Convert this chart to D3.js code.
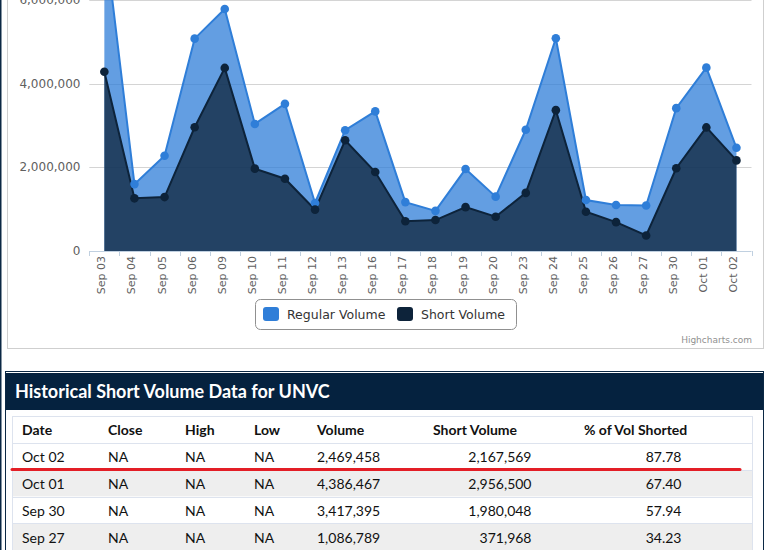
<!DOCTYPE html>
<html>
<head>
<meta charset="utf-8">
<script src="https://cdn.jsdelivr.net/npm/d3@7/dist/d3.min.js"></script>
<style>
body { margin: 0; background: #fff; }
svg { display: block; }
</style>
</head>
<body>
<div id="chart-area"></div>
<script>
var width = 774;
var height = 550;

// chart data
var dates = ["Sep 03","Sep 04","Sep 05","Sep 06","Sep 09","Sep 10","Sep 11","Sep 12","Sep 13","Sep 16","Sep 17",
	"Sep 18","Sep 19","Sep 20","Sep 23","Sep 24","Sep 25","Sep 26","Sep 27","Sep 30","Oct 01","Oct 02"];
var regularVolume = [7600000,1600000,2280000,5080000,5790000,3040000,3520000,1150000,2890000,3340000,1170000,
	960000,1960000,1300000,2900000,5090000,1220000,1100000,1086789,3417395,4386467,2469458];
var shortVolume = [4290000,1260000,1290000,2960000,4380000,1970000,1730000,990000,2650000,1890000,710000,
	740000,1050000,820000,1390000,3370000,940000,690000,371968,1980048,2956500,2167569];
var yTicks = [0, 2000000, 4000000, 6000000];

// table data
var tableHeaders = ["Date","Close","High","Low","Volume","Short Volume","% of Vol Shorted"];
var tableDates = ["Oct 02","Oct 01","Sep 30","Sep 27"];
var tableClose = ["NA","NA","NA","NA"];
var tableHigh = ["NA","NA","NA","NA"];
var tableLow = ["NA","NA","NA","NA"];
var tableVolume = ["2,469,458","4,386,467","3,417,395","1,086,789"];
var tableShort = ["2,167,569","2,956,500","1,980,048","371,968"];
var tablePct = ["87.78","67.40","57.94","34.23"];

var chartFont = "'DejaVu Sans', Verdana, sans-serif";
var tableFont = "Lato, 'Open Sans', sans-serif";

var svg = d3.select("#chart-area").append("svg")
	.attr("width", width)
	.attr("height", height);

// page edge line
svg.append("rect").attr("x", 0).attr("y", 0).attr("width", 1.5).attr("height", height).attr("fill", "#0b2844");

// chart box
svg.append("rect")
	.attr("x", 7.5).attr("y", -20).attr("width", 756).attr("height", 368.5)
	.attr("fill", "#fff").attr("stroke", "#cfcfcf");

var x = d3.scaleBand()
	.domain(dates)
	.range([89.3, 751.5]);

var y = d3.scaleLinear()
	.domain([0, 8000000])
	.range([251, 251 - 4 * 83.6]);

var cx = (d) => x(d) + x.bandwidth() / 2;

var g = svg.append("g");

// grid lines
g.selectAll(".grid")
	.data(yTicks.slice(1))
	.enter()
	.append("line")
		.attr("x1", 89.3).attr("x2", 751.5)
		.attr("y1", (d) => Math.round(y(d)) + 0.5)
		.attr("y2", (d) => Math.round(y(d)) + 0.5)
		.attr("stroke", "#d4d4d4");

// y labels
g.selectAll(".ylabel")
	.data(yTicks)
	.enter()
	.append("text")
		.attr("x", 80.5)
		.attr("y", (d) => y(d) + 4)
		.attr("text-anchor", "end")
		.attr("font-family", chartFont)
		.attr("font-size", "12px")
		.attr("fill", "#606060")
		.text((d) => d3.format(",")(d));

var regArea = d3.area()
	.x((d, i) => cx(dates[i]))
	.y0(y(0))
	.y1((d) => y(d));
var line = d3.line()
	.x((d, i) => cx(dates[i]))
	.y((d) => y(d));

var series = [
	{values: regularVolume, color: "#2f7ed8"},
	{values: shortVolume, color: "#0d233a"}
];

series.forEach((s) => {
	g.append("path")
		.attr("d", regArea(s.values))
		.attr("fill", s.color)
		.attr("fill-opacity", 0.75);
	g.append("path")
		.attr("d", line(s.values))
		.attr("fill", "none")
		.attr("stroke", s.color)
		.attr("stroke-width", 2);
});
series.forEach((s) => {
	g.selectAll(null)
		.data(s.values)
		.enter()
		.append("circle")
			.attr("cx", (d, i) => cx(dates[i]))
			.attr("cy", (d) => y(d))
			.attr("r", 4.3)
			.attr("fill", s.color);
});

// x axis
g.append("line")
	.attr("x1", 89.3).attr("x2", 751.5)
	.attr("y1", 251.5).attr("y2", 251.5)
	.attr("stroke", "#c0d0e0");
var tickPos = dates.map((d) => x(d)).concat([751.5]);
g.selectAll(".xtick")
	.data(tickPos)
	.enter()
	.append("line")
		.attr("x1", (d) => Math.round(d) + 0.5).attr("x2", (d) => Math.round(d) + 0.5)
		.attr("y1", 251).attr("y2", 256)
		.attr("stroke", "#c0d0e0");
g.selectAll(".xlabel")
	.data(dates)
	.enter()
	.append("text")
		.attr("text-anchor", "end")
		.attr("font-family", chartFont)
		.attr("font-size", "11px")
		.attr("fill", "#606060")
		.attr("transform", (d) => "translate(" + (cx(d) + 1) + ",256) rotate(-90)")
		.text((d) => d);

// legend
var legend = svg.append("g");
legend.append("rect")
	.attr("x", 255.5).attr("y", 299.5).attr("width", 261).attr("height", 30)
	.attr("rx", 5)
	.attr("fill", "#fff").attr("stroke", "#909090");
var legendItems = [
	{name: "Regular Volume", color: "#2f7ed8", x: 263},
	{name: "Short Volume", color: "#0d233a", x: 397}
];
legendItems.forEach((it) => {
	legend.append("rect")
		.attr("x", it.x).attr("y", 307).attr("width", 16).attr("height", 14)
		.attr("rx", 3)
		.attr("fill", it.color);
	legend.append("text")
		.attr("x", it.x + 24).attr("y", 319)
		.attr("font-family", chartFont)
		.attr("font-size", "12.5px")
		.attr("fill", "#333")
		.text(it.name);
});

svg.append("text")
	.attr("x", 752).attr("y", 343)
	.attr("text-anchor", "end")
	.attr("font-family", chartFont)
	.attr("font-size", "9px")
	.attr("fill", "#909090")
	.text("Highcharts.com");

// table panel
var t = svg.append("g");
t.append("rect")
	.attr("x", 5.5).attr("y", 371.5).attr("width", 758).attr("height", 200)
	.attr("fill", "#fff").attr("stroke", "#0b2844");
t.append("rect")
	.attr("x", 6).attr("y", 373).attr("width", 757).attr("height", 37)
	.attr("fill", "#05223f");
t.append("text")
	.attr("x", 15).attr("y", 397.5)
	.attr("font-family", tableFont)
	.attr("font-weight", "bold")
	.attr("font-size", "18px")
	.attr("fill", "#fff")
	.text("Historical Short Volume Data for UNVC");

// inner table
var rowTop = 416.5;
var rowH = 26.7;
t.append("rect")
	.attr("x", 12.5).attr("y", rowTop).attr("width", 740).attr("height", 200)
	.attr("fill", "#fff").attr("stroke", "#dde3ee");

tableDates.forEach((d, i) => {
	var ry = rowTop + rowH * (i + 1);
	t.append("rect")
		.attr("x", 13).attr("y", ry).attr("width", 739).attr("height", rowH)
		.attr("fill", i % 2 == 1 ? "#eeeeee" : "#fff");
	t.append("line")
		.attr("x1", 13).attr("x2", 752)
		.attr("y1", Math.round(ry) + 0.5).attr("y2", Math.round(ry) + 0.5)
		.attr("stroke", "#dde3ee");
});

var colX = [22, 108, 185, 254, 317, 433, 584];
var colEnd = [null, null, null, null, null, 531.5, 681.5];
tableHeaders.forEach((h, j) => {
	t.append("text")
		.attr("x", colX[j]).attr("y", 435)
		.attr("font-family", tableFont)
		.attr("font-weight", "bold")
		.attr("font-size", "14px")
		.attr("fill", "#111")
		.text(h);
});

var columns = [tableDates, tableClose, tableHigh, tableLow, tableVolume, tableShort, tablePct];
columns.forEach((col, j) => {
	t.selectAll(null)
		.data(col)
		.enter()
		.append("text")
			.attr("x", colEnd[j] ? colEnd[j] : colX[j])
			.attr("y", (d, i) => 461.7 + 27 * i)
			.attr("text-anchor", colEnd[j] ? "end" : "start")
			.attr("font-family", tableFont)
			.attr("font-size", "14px")
			.attr("fill", "#111")
			.text((d) => d);
});

// red marker under first row
t.append("line")
	.attr("x1", 12).attr("x2", 740)
	.attr("y1", 469.5).attr("y2", 469.5)
	.attr("stroke", "#e31e26")
	.attr("stroke-width", 3)
	.attr("stroke-linecap", "round");
</script>
</body>
</html>
